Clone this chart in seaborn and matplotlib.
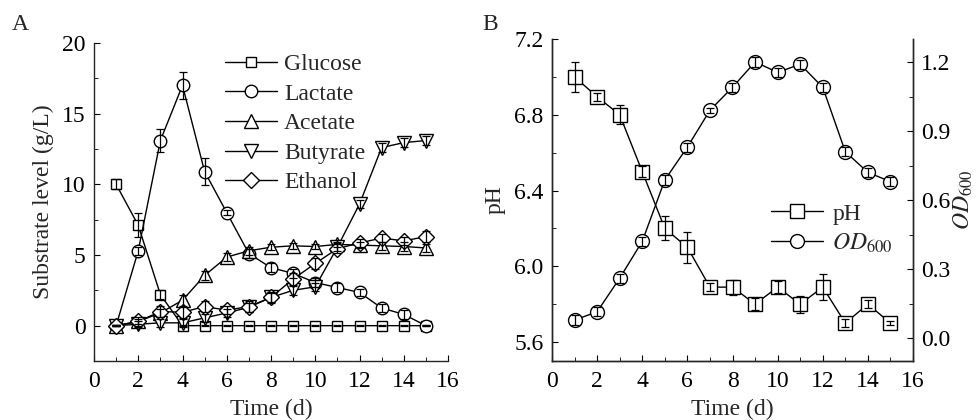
import numpy as np
import matplotlib
matplotlib.use('Agg')
import matplotlib.pyplot as plt
import seaborn as sns
from matplotlib.ticker import MultipleLocator, FormatStrFormatter

# Data
days = [1, 2, 3, 4, 5, 6, 7, 8, 9, 10, 11, 12, 13, 14, 15]

glucose = [10.0, 7.1, 2.2, 0, 0, 0, 0, 0, 0, 0, 0, 0, 0, 0, 0]
glucose_err = [0.35, 0.85, 0.3, 0.05, 0.05, 0.05, 0.05, 0.05, 0.05, 0.05, 0.05, 0.05, 0.05, 0.05, 0.05]
lactate = [0, 5.3, 13.1, 17.0, 10.9, 8.0, 5.1, 4.1, 3.7, 3.05, 2.7, 2.35, 1.25, 0.8, 0]
lactate_err = [0.05, 0.3, 0.8, 0.95, 0.95, 0.2, 0.3, 0.3, 0.3, 0.3, 0.3, 0.25, 0.3, 0.3, 0.05]
acetate = [0, 0.3, 0.9, 1.8, 3.55, 4.85, 5.3, 5.55, 5.65, 5.6, 5.75, 5.7, 5.65, 5.6, 5.5]
acetate_err = [0.05, 0.2, 0.3, 0.4, 0.3, 0.3, 0.3, 0.2, 0.2, 0.2, 0.2, 0.2, 0.3, 0.3, 0.3]
butyrate = [0, 0.1, 0.2, 0.2, 0.55, 0.9, 1.3, 2.0, 2.5, 2.75, 5.55, 8.6, 12.6, 12.95, 13.1]
butyrate_err = [0.05, 0.2, 0.3, 0.3, 0.3, 0.3, 0.3, 0.3, 0.3, 0.3, 0.3, 0.3, 0.3, 0.3, 0.3]
ethanol = [0, 0.3, 1.0, 0.95, 1.35, 1.1, 1.35, 2.0, 3.3, 4.4, 5.45, 5.85, 6.2, 6.0, 6.3]
ethanol_err = [0.05, 0.3, 0.4, 0.4, 0.4, 0.3, 0.4, 0.4, 0.4, 0.4, 0.3, 0.3, 0.3, 0.3, 0.4]

ph = [7.0, 6.895, 6.8, 6.5, 6.2, 6.1, 5.89, 5.89, 5.8, 5.89, 5.8, 5.89, 5.7, 5.8, 5.7]
ph_err = [0.08, 0.02, 0.05, 0.03, 0.063, 0.08, 0.02, 0.04, 0.03, 0.03, 0.045, 0.07, 0.02, 0.02, 0.01]
od600 = [0.078, 0.114, 0.26, 0.42, 0.687, 0.83, 0.99, 1.09, 1.2, 1.155, 1.19, 1.09, 0.81, 0.72, 0.68]
od600_err = [0.02, 0.02, 0.02, 0.02, 0.02, 0.02, 0.01, 0.02, 0.02, 0.02, 0.02, 0.02, 0.02, 0.02, 0.02]

sns.set_style('ticks')
plt.rcParams['font.family'] = ['Liberation Serif', 'DejaVu Serif']
plt.rcParams['mathtext.fontset'] = 'stix'
plt.rcParams['font.size'] = 17
plt.rcParams['axes.linewidth'] = 1.0
plt.rcParams['xtick.direction'] = 'in'
plt.rcParams['ytick.direction'] = 'in'
plt.rcParams['xtick.major.size'] = 4
plt.rcParams['ytick.major.size'] = 4
plt.rcParams['xtick.minor.size'] = 3
plt.rcParams['ytick.minor.size'] = 3
plt.rcParams['xtick.major.pad'] = 7
plt.rcParams['ytick.major.pad'] = 6
plt.rcParams['xtick.color'] = 'black'
plt.rcParams['ytick.color'] = 'black'

fig = plt.figure(figsize=(9.79, 4.2), dpi=100)
W, H = 979, 420
axA = fig.add_axes([94 / W, 1 - 361 / H, 354 / W, 318 / H])
axB = fig.add_axes([552 / W, 1 - 361 / H, 361 / W, 322 / H])


def draw(ax, y, err, marker, ms, name):
    sns.lineplot(x=days, y=y, ax=ax, color='black', lw=1, marker=marker,
                 markersize=ms, markerfacecolor='white', markeredgecolor='black',
                 markeredgewidth=1, label=name, legend=False)
    ax.errorbar(days, y, yerr=err, fmt='none', ecolor='black', elinewidth=0.9,
                capsize=2.8, capthick=0.9, zorder=5)


# Panel A
draw(axA, glucose, glucose_err, 's', 7, 'Glucose')
draw(axA, lactate, lactate_err, 'o', 9, 'Lactate')
draw(axA, acetate, acetate_err, '^', 9.5, 'Acetate')
draw(axA, butyrate, butyrate_err, 'v', 9.5, 'Butyrate')
draw(axA, ethanol, ethanol_err, 'D', 8, 'Ethanol')

axA.set_xlim(0, 16)
axA.set_ylim(-2.5, 20)
axA.xaxis.set_major_locator(MultipleLocator(2))
axA.xaxis.set_minor_locator(MultipleLocator(1))
axA.yaxis.set_major_locator(MultipleLocator(5))
axA.yaxis.set_minor_locator(MultipleLocator(2.5))
axA.set_xlabel('Time (d)', fontsize=17, labelpad=5)
axA.set_ylabel('Substrate level (g/L)', fontsize=17, labelpad=6)
axA.tick_params(labelsize=17)
sns.despine(ax=axA)
axA.legend(loc='center left', bbox_to_anchor=(0.343, 0.747), frameon=False,
           fontsize=17, handlelength=2.2, handletextpad=0.3, labelspacing=0.34,
           borderaxespad=0)

# Panel B
axB2 = axB.twinx()
draw(axB, ph, ph_err, 's', 10, 'pH')
draw(axB2, od600, od600_err, 'o', 10, r'$OD_{600}$')

axB.set_xlim(0, 16)
axB.set_ylim(5.5, 7.2)
axB2.set_ylim(-0.1, 1.3)
axB.xaxis.set_major_locator(MultipleLocator(2))
axB.xaxis.set_minor_locator(MultipleLocator(1))
axB.set_yticks([5.6, 6.0, 6.4, 6.8, 7.2])
axB.set_yticks([5.8, 6.2, 6.6, 7.0], minor=True)
axB2.set_yticks([0.0, 0.3, 0.6, 0.9, 1.2])
axB2.set_yticks([0.15, 0.45, 0.75, 1.05], minor=True)
axB.yaxis.set_major_formatter(FormatStrFormatter('%.1f'))
axB2.yaxis.set_major_formatter(FormatStrFormatter('%.1f'))
axB.set_xlabel('Time (d)', fontsize=17, labelpad=5)
axB.set_ylabel('pH', fontsize=17, labelpad=6)
axB2.set_ylabel(r'$OD_{600}$', fontsize=17, labelpad=1)
axB.tick_params(labelsize=17)
axB2.tick_params(labelsize=17, which='both', direction='in')
for a in (axB, axB2):
    a.spines['top'].set_visible(False)

hB, lB = axB.get_legend_handles_labels()
hB2, lB2 = axB2.get_legend_handles_labels()
axB2.legend(hB + hB2, lB + lB2, loc='center left', bbox_to_anchor=(0.58, 0.41),
            frameon=False, fontsize=17, handlelength=2.2, handletextpad=0.4,
            labelspacing=0.3, borderaxespad=0)

fig.text(12 / W, 1 - 25 / H, 'A', fontsize=17, va='center')
fig.text(482 / W, 1 - 25 / H, 'B', fontsize=17, va='center')

fig.savefig('out.png', dpi=100)
